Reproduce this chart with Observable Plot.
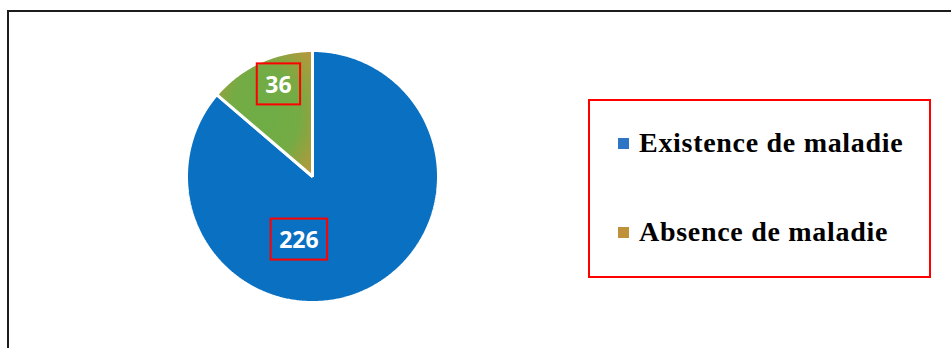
<!DOCTYPE html>
<html>
<head>
<meta charset="utf-8">
<script src="https://cdn.jsdelivr.net/npm/d3@7"></script>
<script src="https://cdn.jsdelivr.net/npm/@observablehq/plot@0.6"></script>
<style>
  html, body { margin: 0; padding: 0; background: #fff; }
  #wrap { position: relative; width: 951px; height: 348px; overflow: hidden; }
  #frame { position: absolute; left: 7px; top: 10px; right: -10px; bottom: -10px;
           border-top: 2px solid #1c1c1c; border-left: 2px solid #1c1c1c; }
  #chart { position: absolute; left: 0; top: 0; }
</style>
</head>
<body>
<div id="wrap"><div id="frame"></div><div id="chart"></div></div>
<script>
// ---- data ----
const categories = ["Existence de maladie", "Absence de maladie"];
const values = [226, 36];
const sliceColors = ["#0A70C2", "url(#greenGold)"];
const legendColors = ["#2E75C6", "#C0913B"];

// ---- layout ----
const W = 951, H = 348, CX = 312, CY = 176, R = 126;

const pie = d3.pie().sort(null).value(d => d.value)(
  categories.map((c, i) => ({category: c, value: values[i]}))
);

function slicePoints(p) {
  const pts = [{category: p.data.category, x: 0, y: 0}];
  const n = Math.max(2, Math.ceil((p.endAngle - p.startAngle) / (Math.PI / 360)));
  for (let k = 0; k <= n; k++) {
    const a = p.startAngle + (p.endAngle - p.startAngle) * k / n;
    pts.push({category: p.data.category, x: Math.sin(a), y: Math.cos(a)});
  }
  return pts;
}

function labelPos(p, r) {
  const a = (p.startAngle + p.endAngle) / 2;
  return {label: String(p.data.value), x: Math.sin(a) * r, y: Math.cos(a) * r};
}

const marks = [];
pie.forEach((p, i) => {
  marks.push(Plot.line(slicePoints(p), {
    x: "x", y: "y", curve: "linear-closed",
    fill: sliceColors[i], stroke: "#ffffff", strokeWidth: 3, strokeLinejoin: "miter"
  }));
});
const labelOffsets = [[-40, 7], [6, -4]];
const labelRadius = [0.5, 0.76];
pie.forEach((p, i) => {
  marks.push(Plot.text([labelPos(p, labelRadius[i])], {
    x: "x", y: "y", text: "label", dx: labelOffsets[i][0], dy: labelOffsets[i][1],
    fill: "#ffffff", fontSize: 23, fontWeight: "bold", fontFamily: "Open Sans",
    className: "slice-label"
  }));
});

const chart = Plot.plot({
  width: W, height: H,
  margin: 0,
  style: {background: "transparent", overflow: "visible"},
  x: {domain: [-CX / R, (W - CX) / R], range: [0, W], axis: null},
  y: {domain: [(CY - H) / R, CY / R], range: [H, 0], axis: null},
  marks
});
document.getElementById("chart").appendChild(chart);

const svg = d3.select(chart);
const defs = svg.insert("defs", ":first-child");
const g = defs.append("radialGradient").attr("id", "greenGold")
  .attr("cx", "0.5").attr("cy", "0.5").attr("r", "0.72");
g.append("stop").attr("offset", "0%").attr("stop-color", "#6EAD46");
g.append("stop").attr("offset", "50%").attr("stop-color", "#74AB44");
g.append("stop").attr("offset", "100%").attr("stop-color", "#C0953A");

// red boxes around data labels
svg.selectAll("g.slice-label text").each(function() {
  const b = this.getBBox();
  d3.select(this.parentNode).insert("rect", ":first-child")
    .attr("transform", this.getAttribute("transform"))
    .attr("x", b.x - 8.5).attr("y", b.y - 4.5)
    .attr("width", b.width + 17).attr("height", b.height + 9)
    .attr("fill", "none").attr("stroke", "#FF0000").attr("stroke-width", 2);
});

// legend
const lg = svg.append("g").attr("class", "legend").attr("text-anchor", "start");
lg.append("rect").attr("x", 589).attr("y", 100).attr("width", 341).attr("height", 177)
  .attr("fill", "#fff").attr("stroke", "#FF0000").attr("stroke-width", 2);
const rowsY = [152, 241];
categories.forEach((c, i) => {
  lg.append("rect").attr("x", 618).attr("y", rowsY[i] - 14).attr("width", 11).attr("height", 11)
    .attr("fill", legendColors[i]);
  lg.append("text").attr("x", 639).attr("y", rowsY[i]).attr("text-anchor", "start")
    .attr("font-family", "'Liberation Serif', serif").attr("font-weight", "bold")
    .attr("font-size", 28).attr("letter-spacing", 0.7).attr("fill", "#000").text(c);
});
</script>
</body>
</html>
